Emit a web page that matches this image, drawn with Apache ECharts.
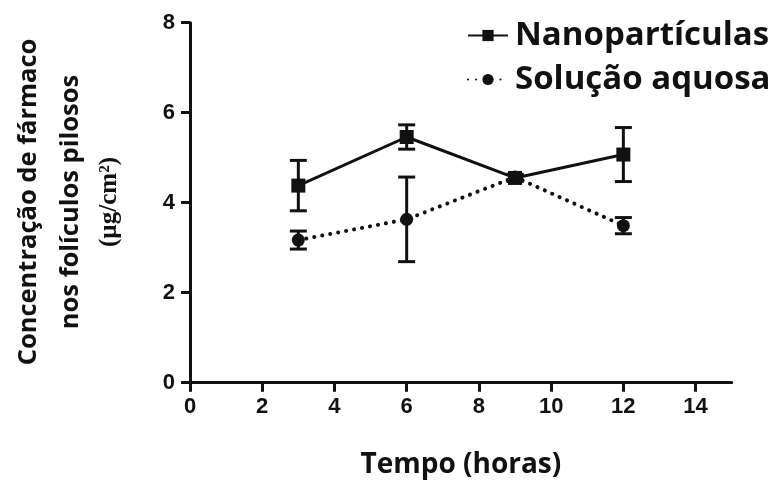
<!DOCTYPE html>
<html>
<head>
<meta charset="utf-8">
<script src="https://cdn.jsdelivr.net/npm/echarts@6/dist/echarts.min.js"></script>
<style>
  html, body { margin: 0; padding: 0; background: #fff; }
  #chart { width: 784px; height: 485px; }
</style>
</head>
<body>
<div id="chart"></div>
<script>
// Sampling times (hours)
const times = [3, 6, 9, 12];
// Nanoparticle formulation: mean and error (µg/cm²)
const nanoMean = [4.38, 5.46, 4.55, 5.07];
const nanoErr = [0.56, 0.27, 0.08, 0.60];
// Aqueous solution: mean and error (µg/cm²)
const solMean = [3.17, 3.63, 4.57, 3.49];
const solErr = [0.20, 0.94, 0.06, 0.18];
// Axis tick values
const xTicks = [0, 2, 4, 6, 8, 10, 12, 14];
const yTicks = [0, 2, 4, 6, 8];

const seriesNames = ['Nanopartículas', 'Solução aquosa'];

function pairs(xs, ys) { return xs.map((x, i) => [x, ys[i]]); }
function errRows(xs, m, e) { return xs.map((x, i) => [x, m[i] - e[i], m[i] + e[i]]); }

// Vertical error bar with caps
function renderErrorBar(params, api) {
  const x = api.value(0);
  const lo = api.coord([x, api.value(1)]);
  const hi = api.coord([x, api.value(2)]);
  const half = 8.5;
  const style = { stroke: '#111', lineWidth: 3, fill: null };
  return {
    type: 'group',
    children: [
      { type: 'line', shape: { x1: hi[0], y1: hi[1], x2: lo[0], y2: lo[1] }, style },
      { type: 'line', shape: { x1: hi[0] - half, y1: hi[1], x2: hi[0] + half, y2: hi[1] }, style },
      { type: 'line', shape: { x1: lo[0] - half, y1: lo[1], x2: lo[0] + half, y2: lo[1] }, style }
    ]
  };
}

const chart = echarts.init(document.getElementById('chart'), null, { renderer: 'canvas' });

const axisFont = { fontFamily: 'Liberation Sans', fontWeight: 'bold', fontSize: 22, color: '#111' };

chart.setOption({
  backgroundColor: '#fff',
  animation: false,
  grid: { left: 190, top: 22.7, width: 541.7, height: 360, containLabel: false },
  legend: {
    orient: 'vertical',
    left: 462,
    top: 14,
    itemWidth: 40,
    itemHeight: 14,
    itemGap: 11,
    data: seriesNames,
    textStyle: { fontFamily: 'Open Sans', fontWeight: 'bold', fontSize: 33, color: '#111', padding: [0, 0, 0, 2] }
  },
  xAxis: {
    type: 'value',
    min: 0,
    max: 15,
    interval: 2,
    name: 'Tempo (horas)',
    nameLocation: 'middle',
    nameGap: 68,
    nameTextStyle: { fontFamily: 'Open Sans', fontWeight: 'bold', fontSize: 28, color: '#111' },
    axisLine: { onZero: false, lineStyle: { color: '#111', width: 3 } },
    axisTick: { show: true, length: 9, lineStyle: { color: '#111', width: 3 }, customValues: xTicks },
    axisLabel: Object.assign({ margin: 13, customValues: xTicks }, axisFont),
    splitLine: { show: false }
  },
  yAxis: {
    type: 'value',
    min: 0,
    max: 8,
    interval: 2,
    axisLine: { show: true, onZero: false, lineStyle: { color: '#111', width: 3 } },
    axisTick: { show: true, length: 9, lineStyle: { color: '#111', width: 3 }, customValues: yTicks },
    axisLabel: Object.assign({ margin: 15, customValues: yTicks }, axisFont),
    splitLine: { show: false }
  },
  graphic: [{
    type: 'text',
    x: 68,
    y: 202,
    rotation: Math.PI / 2,
    style: {
      text: '{a|Concentração de fármaco}\n{a|nos folículos pilosos}\n{b|(µg/cm²)}',
      align: 'center',
      verticalAlign: 'middle',
      rich: {
        a: { fontFamily: 'Open Sans', fontWeight: 'bold', fontSize: 25.5, lineHeight: 42, fill: '#111', align: 'center' },
        b: { fontFamily: 'Liberation Serif', fontWeight: 'bold', fontSize: 25, lineHeight: 36, fill: '#111', align: 'center' }
      }
    }
  }],
  series: [
    {
      name: seriesNames[0],
      type: 'line',
      data: pairs(times, nanoMean),
      symbol: 'rect',
      symbolSize: 14,
      itemStyle: { color: '#111' },
      lineStyle: { color: '#111', width: 3 },
      z: 3
    },
    {
      name: seriesNames[1],
      type: 'line',
      data: pairs(times, solMean),
      symbol: 'circle',
      symbolSize: 13,
      itemStyle: { color: '#111' },
      lineStyle: { color: '#111', width: 4, type: [0.1, 8], cap: 'round' },
      z: 3
    },
    {
      type: 'custom',
      data: errRows(times, nanoMean, nanoErr),
      renderItem: renderErrorBar,
      encode: { x: 0, y: [1, 2] },
      z: 4,
      silent: true
    },
    {
      type: 'custom',
      data: errRows(times, solMean, solErr),
      renderItem: renderErrorBar,
      encode: { x: 0, y: [1, 2] },
      z: 4,
      silent: true
    }
  ]
});
</script>
</body>
</html>
